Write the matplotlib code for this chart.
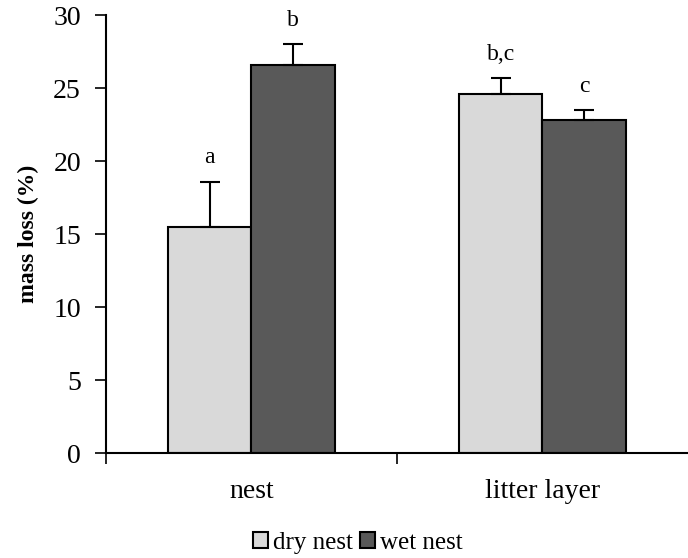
import numpy as np
import matplotlib
matplotlib.use('Agg')
import matplotlib.pyplot as plt

plt.rcParams['font.family'] = ['Liberation Serif', 'DejaVu Serif']

# data
groups = ['nest', 'litter layer']
series = ['dry nest', 'wet nest']
dry = [15.5, 24.6]
wet = [26.6, 22.8]
dry_err = [3.1, 1.1]
wet_err = [1.4, 0.7]
dry_letters = ['a', 'b,c']
wet_letters = ['b', 'c']

fig = plt.figure(figsize=[6.88, 5.58], dpi=100)
ax = fig.add_axes([0.154, 0.188, 0.846, 0.785])

x = np.arange(len(groups))
w = 0.287
kw = dict(edgecolor='black', linewidth=1.5)
b1 = ax.bar(x - w/2, dry, w, color='#d9d9d9', label=series[0], **kw)
b2 = ax.bar(x + w/2, wet, w, color='#595959', label=series[1], **kw)

# one-sided error bars (upper only)
ax.errorbar(x - w/2, dry, yerr=[np.zeros(2), dry_err], fmt='none',
            ecolor='black', elinewidth=1.5, capsize=7, capthick=1.5)
ax.errorbar(x + w/2, wet, yerr=[np.zeros(2), wet_err], fmt='none',
            ecolor='black', elinewidth=1.5, capsize=7, capthick=1.5)

for i in range(len(groups)):
    ax.text(x[i] - w/2, dry[i] + dry_err[i] + 0.9, dry_letters[i],
            ha='center', va='bottom', fontsize=17)
    ax.text(x[i] + w/2, wet[i] + wet_err[i] + 0.9, wet_letters[i],
            ha='center', va='bottom', fontsize=17)

ax.set_xlim(-0.5, 1.5)
ax.set_ylim(0, 30)
ax.set_yticks(range(0, 31, 5))
ax.tick_params(axis='y', labelsize=20, length=8, width=1.2, direction='out', pad=10)
ax.set_xticks([-0.5, 0.5])
ax.set_xticklabels([])
ax.tick_params(axis='x', length=8, width=1.2, direction='out')
for i, g in enumerate(groups):
    ax.text(x[i], -0.06, g, transform=ax.get_xaxis_transform(),
            ha='center', va='top', fontsize=20)

ax.spines['top'].set_visible(False)
ax.spines['right'].set_visible(False)
ax.spines['left'].set_linewidth(1.5)
ax.spines['bottom'].set_linewidth(1.5)

ax.set_ylabel('mass loss (%)', fontsize=17, fontweight='bold', labelpad=10)

fig.legend(handles=[b1, b2], loc='center', bbox_to_anchor=(358/688, 1 - 543/558),
           ncol=2, frameon=False, fontsize=18, handlelength=0.6, handleheight=0.6,
           handletextpad=0.2, columnspacing=0.3, borderaxespad=0, borderpad=0)

fig.savefig('out.png', dpi=100)
